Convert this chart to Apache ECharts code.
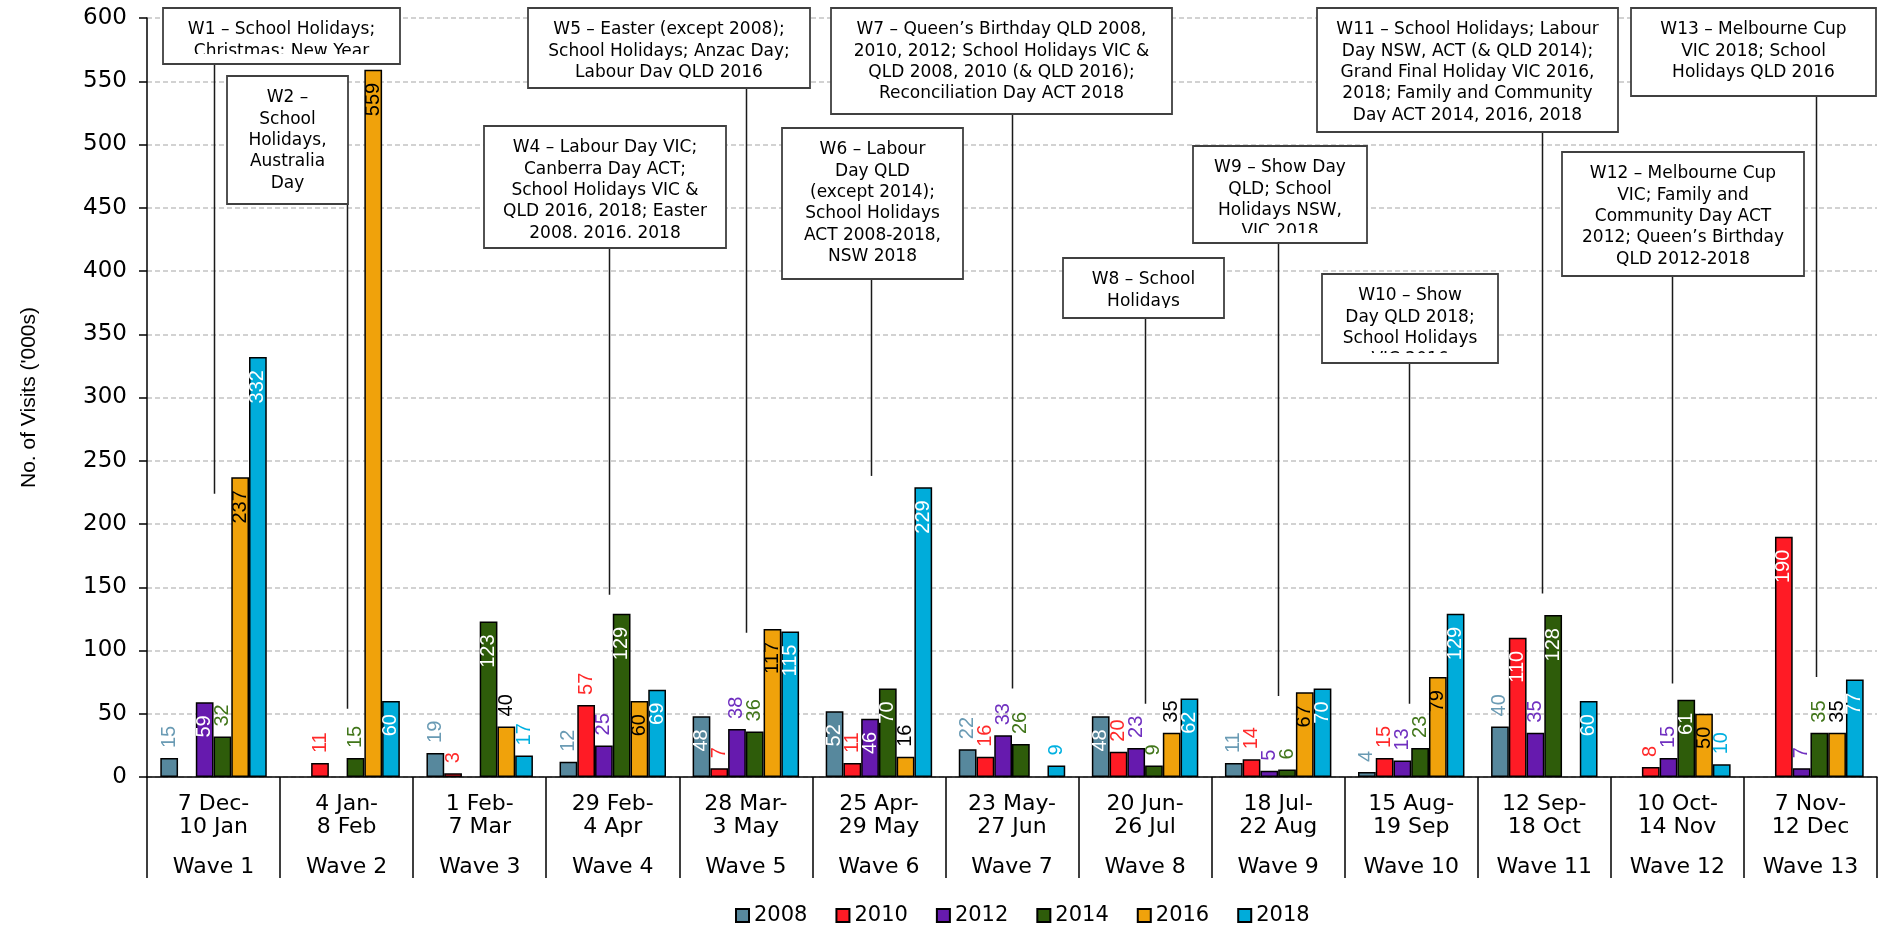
<!DOCTYPE html>
<html>
<head>
<meta charset="utf-8">
<script src="https://cdn.jsdelivr.net/npm/echarts@6/dist/echarts.min.js"></script>
<style>
html,body{margin:0;padding:0;background:#fff;}
#c{width:1883px;height:930px;}
</style>
</head>
<body>
<div id="c"></div>
<script>
// ---------- data ----------
const waves = ['Wave 1','Wave 2','Wave 3','Wave 4','Wave 5','Wave 6','Wave 7','Wave 8','Wave 9','Wave 10','Wave 11','Wave 12','Wave 13'];
const periodStart = ['7 Dec-','4 Jan-','1 Feb-','29 Feb-','28 Mar-','25 Apr-','23 May-','20 Jun-','18 Jul-','15 Aug-','12 Sep-','10 Oct-','7 Nov-'];
const periodEnd = ['10 Jan','8 Feb','7 Mar','4 Apr','3 May','29 May','27 Jun','26 Jul','22 Aug','19 Sep','18 Oct','14 Nov','12 Dec'];
const years = ['2008','2010','2012','2014','2016','2018'];
const v2008 = [15, null, 19, 12, 48, 52, 22, 48, 11, 4, 40, null, null];
const v2010 = [null, 11, 3, 57, 7, 11, 16, 20, 14, 15, 110, 8, 190];
const v2012 = [59, null, null, 25, 38, 46, 33, 23, 5, 13, 35, 15, 7];
const v2014 = [32, 15, 123, 129, 36, 70, 26, 9, 6, 23, 128, 61, 35];
const v2016 = [237, 559, 40, 60, 117, 16, null, 35, 67, 79, null, 50, 35];
const v2018 = [332, 60, 17, 69, 115, 229, 9, 62, 70, 129, 60, 10, 77];
const yAxisTitle = "No. of Visits ('000s)";

// annotation texts
const noteLines = [
  ['W1 \u2013 School Holidays;', 'Christmas; New Year'],
  ['W2 \u2013', 'School', 'Holidays,', 'Australia', 'Day'],
  ['W4 \u2013 Labour Day VIC;', 'Canberra Day ACT;', 'School Holidays VIC &', 'QLD 2016, 2018; Easter', '2008, 2016, 2018'],
  ['W5 \u2013 Easter (except 2008);', 'School Holidays; Anzac Day;', 'Labour Day QLD 2016'],
  ['W6 \u2013 Labour', 'Day QLD', '(except 2014);', 'School Holidays', 'ACT 2008-2018,', 'NSW 2018'],
  ['W7 \u2013 Queen\u2019s Birthday QLD 2008,', '2010, 2012; School Holidays VIC &', 'QLD 2008, 2010 (& QLD 2016);', 'Reconciliation Day ACT 2018'],
  ['W8 \u2013 School', 'Holidays'],
  ['W9 \u2013 Show Day', 'QLD; School', 'Holidays NSW,', 'VIC 2018'],
  ['W10 \u2013 Show', 'Day QLD 2018;', 'School Holidays', 'VIC 2016'],
  ['W11 \u2013 School Holidays; Labour', 'Day NSW, ACT (& QLD 2014);', 'Grand Final Holiday VIC 2016,', '2018; Family and Community', 'Day ACT 2014, 2016, 2018'],
  ['W12 \u2013 Melbourne Cup', 'VIC; Family and', 'Community Day ACT', '2012; Queen\u2019s Birthday', 'QLD 2012-2018'],
  ['W13 \u2013 Melbourne Cup', 'VIC 2018; School', 'Holidays QLD 2016']
];
// annotation layout in axis units: [category from, category to, value top, value bottom]
const noteBoxes = [
  [-0.38, 1.40, 608, 564],
  [0.10, 1.01, 554, 453],
  [2.03, 3.85, 515, 418],
  [2.36, 4.48, 608, 545],
  [4.27, 5.63, 513, 394],
  [4.64, 7.20, 608, 524],
  [6.38, 7.59, 410, 363],
  [7.36, 8.67, 499, 422],
  [8.33, 9.65, 398, 327],
  [8.29, 10.55, 608, 510],
  [10.13, 11.95, 494, 396],
  [10.65, 12.49, 608, 538]
];
// leader lines: category position and value where they end
const leaderAt = [0, 1, 2.97, 4, 4.94, 6, 7, 8, 8.98, 9.98, 10.96, 12.04];
const leaderEnd = [224, 54, 144, 114, 238, 70, 58, 64, 58, 145, 74, 79];

// ---------- styles ----------
const fills = ['#57889D', '#FF1B25', '#661AAE', '#2E5C0A', '#F0A20B', '#00ACDA'];
const outsideLabelColors = ['#6A9BB4', '#FF2A2A', '#7030C0', '#41761A', '#000000', '#00B0E0'];
const insideLabelColors = ['#FFFFFF', '#FFFFFF', '#FFFFFF', '#FFFFFF', '#000000', '#FFFFFF'];
const insideThreshold = 45;
const forceOutside = [[3, 1]]; // [wave index, series index]
const seriesValues = [v2008, v2010, v2012, v2014, v2016, v2018];
const narrow = "'Liberation Sans Narrow', 'Arial Narrow', 'Liberation Sans', Arial, sans-serif";
const wide = "'DejaVu Sans', Verdana, sans-serif";

function itemFor(v, i, s) {
  if (v == null) return null;
  let inside = v >= insideThreshold;
  if (forceOutside.some(p => p[0] === i && p[1] === s)) inside = false;
  return {
    value: v,
    label: inside
      ? { position: 'insideTop', align: 'right', distance: 13, color: insideLabelColors[s] }
      : { position: 'top', align: 'left', distance: 10, color: outsideLabelColors[s] }
  };
}

const series = years.map((y, s) => ({
  name: y,
  type: 'bar',
  barGap: '0%',
  barCategoryGap: '20%',
  data: seriesValues[s].map((v, i) => itemFor(v, i, s)),
  itemStyle: { color: fills[s], borderColor: '#000', borderWidth: 1.5 },
  label: {
    show: true, rotate: 90, verticalAlign: 'middle',
    fontFamily: narrow, fontSize: 20
  },
  emphasis: { disabled: true }
}));

const chart = echarts.init(document.getElementById('c'), null, { renderer: 'canvas' });
chart.setOption({
  animation: false,
  backgroundColor: '#fff',
  grid: { left: 147, right: 6, top: 18, bottom: 153, containLabel: false, outerBoundsMode: 'none' },
  legend: {
    data: years, left: 735, top: 905, padding: 0,
    icon: 'rect', itemWidth: 13, itemHeight: 13, itemGap: 28,
    selectedMode: false,
    textStyle: { fontFamily: wide, fontSize: 21, color: '#000' }
  },
  xAxis: {
    type: 'category',
    data: waves,
    axisLine: { lineStyle: { color: '#000', width: 1.5 } },
    axisTick: { show: true, interval: 0, length: 101, lineStyle: { color: '#000', width: 1.5 } },
    axisLabel: {
      interval: 0, margin: 16, color: '#000',
      formatter: (val, idx) => `{a|${periodStart[idx]}}\n{a|${periodEnd[idx]}}\n{b|${val}}`,
      rich: {
        a: { fontFamily: wide, fontSize: 22, lineHeight: 23, color: '#000' },
        b: { fontFamily: wide, fontSize: 22, lineHeight: 57, color: '#000' }
      }
    },
    splitLine: { show: false }
  },
  yAxis: {
    type: 'value', min: 0, max: 600, interval: 50,
    name: yAxisTitle, nameLocation: 'middle', nameGap: 107,
    nameTextStyle: { fontFamily: narrow, fontSize: 21, color: '#000' },
    axisLine: { show: true, lineStyle: { color: '#000', width: 1.5 } },
    axisTick: { show: true, length: 8, lineStyle: { color: '#000', width: 1.5 } },
    axisLabel: { margin: 20, fontFamily: wide, fontSize: 23, color: '#000' },
    splitLine: { show: true, lineStyle: { color: '#C4C4C4', width: 1.5, type: [5, 3] } }
  },
  series: series
});

// ---------- annotations, placed through the axes ----------
function drawNotes() {
  const c0 = chart.convertToPixel({ gridIndex: 0 }, [0, 0])[0];
  const c1 = chart.convertToPixel({ gridIndex: 0 }, [1, 0])[0];
  const band = c1 - c0;
  const px = u => c0 + u * band;
  const py = v => chart.convertToPixel({ yAxisIndex: 0 }, v);
  const els = [];
  noteBoxes.forEach((b, k) => {
    const L = Math.round(px(b[0])), R = Math.round(px(b[1]));
    const T = Math.round(py(b[2])), B = Math.round(py(b[3]));
    const lx = Math.round(px(leaderAt[k])) + 0.5;
    els.push({ type: 'line', z: 99, shape: { x1: lx, y1: B, x2: lx, y2: py(leaderEnd[k]) },
      style: { stroke: '#1a1a1a', lineWidth: 1.5 } });
    els.push({ type: 'rect', z: 100, shape: { x: L, y: T, width: R - L, height: B - T },
      style: { fill: '#fff' } });
    els.push({ type: 'text', z: 101, style: {
      text: noteLines[k].join('\n'), x: (L + R) / 2, y: T + 11.3,
      fontFamily: wide, fontSize: 17, lineHeight: 21.3, fill: '#000',
      align: 'center', verticalAlign: 'top' } });
    els.push({ type: 'rect', z: 102, shape: { x: L + 1, y: B - 10, width: R - L - 2, height: 9 },
      style: { fill: '#fff' } });
    els.push({ type: 'rect', z: 103, shape: { x: L, y: T, width: R - L, height: B - T },
      style: { fill: null, stroke: '#404040', lineWidth: 1.8 } });
  });
  chart.setOption({ graphic: { elements: els } });
}
drawNotes();
</script>
</body>
</html>
